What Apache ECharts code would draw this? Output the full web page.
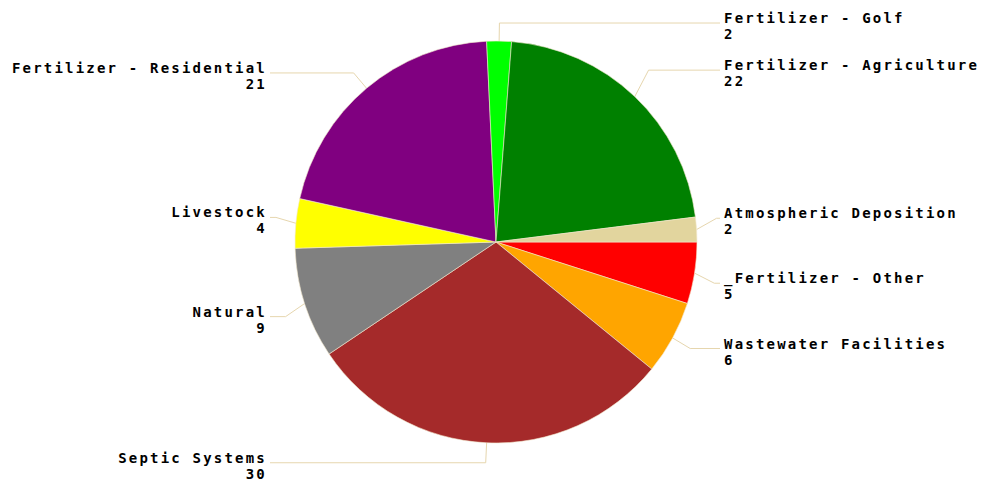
<!DOCTYPE html>
<html>
<head>
<meta charset="utf-8">
<script src="https://cdn.jsdelivr.net/npm/echarts@6/dist/echarts.min.js"></script>
<style>
html,body{margin:0;padding:0;background:#fff;}
#chart{width:989px;height:498px;}
#chart text{letter-spacing:2.2px;}
</style>
</head>
<body>
<div id="chart"></div>
<script>
// Slices listed clockwise starting at 3 o'clock
const categories = ['_Fertilizer - Other', 'Wastewater Facilities', 'Septic Systems', 'Natural', 'Livestock', 'Fertilizer - Residential', 'Fertilizer - Golf', 'Fertilizer - Agriculture', 'Atmospheric Deposition'];
const values = [5, 6, 30, 9, 4, 21, 2, 22, 2];
const colors = ['#ff0000', '#ffa500', '#a52a2a', '#808080', '#ffff00', '#800080', '#00ff00', '#008000', '#e2d59e'];
// vertical nudges of each label's leader line (layout style only)
const lineNudge = [7, 1, 0, 7, -4, 0, 2, -12, -10];

const CX = 496, CY = 242;
const RIGHT_LINE_END = 720, RIGHT_TEXT_X = 724;
const LEFT_LINE_END = 270, LEFT_TEXT_X = 267;
const TEXT_DROP = 3;

const chart = echarts.init(document.getElementById('chart'), null, {renderer: 'svg'});
chart.setOption({
  animation: false,
  backgroundColor: '#ffffff',
  series: [{
    type: 'pie',
    center: [CX, CY],
    radius: 201,
    startAngle: 0,
    clockwise: true,
    avoidLabelOverlap: true,
    data: categories.map((c, i) => ({name: c, value: values[i], itemStyle: {color: colors[i]}})),
    itemStyle: {borderColor: '#f2e8cc', borderWidth: 0.6},
    label: {
      show: true,
      position: 'outer',
      formatter: '{b}\n{c}',
      color: '#000',
      fontFamily: 'DejaVu Sans Mono',
      fontWeight: 'bold',
      fontSize: 14,
      lineHeight: 16
    },
    labelLine: {
      show: true,
      length: 20,
      length2: 30,
      smooth: false,
      lineStyle: {color: '#e6d6ae', width: 1}
    },
    emphasis: {disabled: true},
    labelLayout: function (params) {
      const p = params.labelLinePoints;
      if (!p) return {};
      const right = p[1][0] >= CX;
      const y = p[1][1] + (lineNudge[params.dataIndex] || 0);
      const pts = [p[0].slice(), [p[1][0], y], [right ? RIGHT_LINE_END : LEFT_LINE_END, y]];
      return {
        x: right ? RIGHT_TEXT_X : LEFT_TEXT_X,
        y: y + TEXT_DROP,
        align: right ? 'left' : 'right',
        verticalAlign: 'middle',
        labelLinePoints: pts
      };
    }
  }]
});
</script>
</body>
</html>
